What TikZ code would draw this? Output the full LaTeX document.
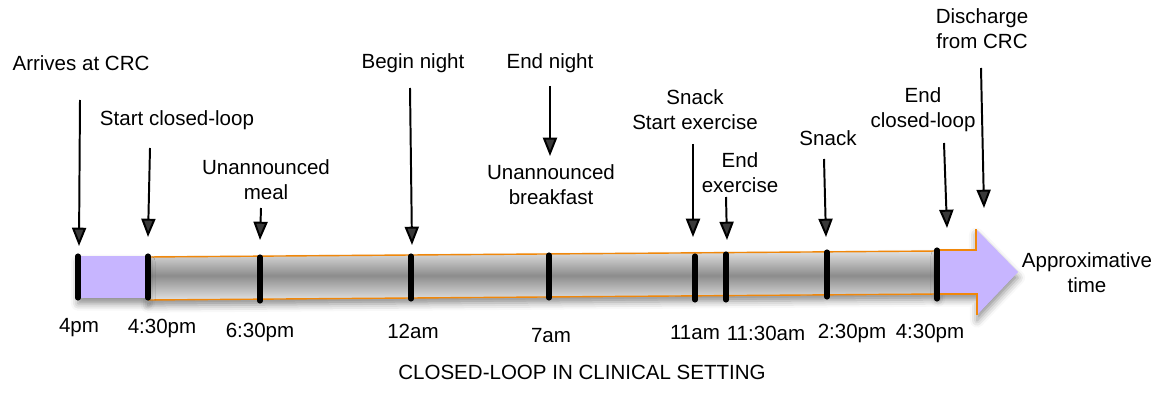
\documentclass[tikz,border=0pt]{standalone}
\usepackage{fontspec}
\setmainfont{Liberation Sans}
\usetikzlibrary{arrows.meta,shadows.blur}
\definecolor{lilac}{RGB}{199,181,255}
\definecolor{bandorange}{RGB}{240,135,10}
\tikzset{
	lbl/.style={inner sep=0pt, align=center, font=\fontsize{14.6}{17.8}\selectfont},
	evarrow/.style={-{Triangle[width=10pt,length=13pt]}, line width=1.4pt},
	timetick/.style={line width=3.6pt, line cap=round},
	softshadow/.style={blur shadow={shadow xshift=0pt, shadow yshift=-4pt, shadow blur radius=5pt, shadow opacity=45}},
}
\begin{document}
\begin{tikzpicture}[x=0.025cm, y=-0.025cm]
	\useasboundingbox (0,0) rectangle (1163,413);
	
	% the bar
	\fill[white, softshadow] (148,257) -- (938,251) -- (938,294) -- (148,300) -- cycle;
	\shade[top color=black!12, bottom color=black!12, middle color=black!45]
		(148,257) -- (938,251) -- (938,294) -- (148,300) -- cycle;
	\draw[bandorange, line width=1pt] (148,257) -- (938,251);
	\draw[bandorange, line width=1pt] (148,300) -- (938,294);
	\fill[lilac, softshadow] (78,256) rectangle (148,298);
	\fill[lilac, softshadow] (938,250) -- (976,250) -- (976,229) -- (1018,272)
		-- (977,315) -- (977,294) -- (938,294) -- cycle;
	\draw[bandorange, line width=0.8pt] (938,250) -- (976,250) -- (976,229);
	\draw[bandorange, line width=0.8pt] (938,294) -- (977,294) -- (977,315);
	\foreach \x/\t/\b in {78/256/298, 148/256/298, 260/257/301, 411/256/299,
		549/255/298, 695/256/300, 726/254/300, 827/252/297, 937/250/299}
		\draw[timetick] (\x,\t) -- (\x,\b);
	
	% events
	\node[lbl] (arrive) at (81,63) {Arrives at CRC};
	\node[lbl] (startcl) at (177,120) {Start closed-loop};
	\node[lbl] (meal) at (266,180) {Unannounced\\meal};
	\node[lbl] (beginnight) at (413,63) {Begin night};
	\node[lbl] (endnight) at (550,63) {End night};
	\node[lbl] (breakfast) at (551,185) {Unannounced\\breakfast};
	\node[lbl] (snackex) at (695,110) {Snack\\Start exercise};
	\node[lbl] (endex) at (740,173) {End\\exercise};
	\node[lbl] (snack) at (828,138) {Snack};
	\node[lbl] (endcl) at (923,110) {End\\closed-loop};
	\node[lbl] (discharge) at (982,29) {Discharge\\from CRC};
	\node[lbl] (approx) at (1087,273) {Approximative\\time};
	
	\coordinate (arriveS) at (80,100);     \coordinate (arriveE) at (79,246);
	\coordinate (startclS) at (150,148);   \coordinate (startclE) at (148,237);
	\coordinate (mealS) at (261,208);      \coordinate (mealE) at (260,240);
	\coordinate (beginS) at (410,88);      \coordinate (beginE) at (412,245);
	\coordinate (endnightS) at (550,86);   \coordinate (endnightE) at (550,156);
	\coordinate (snackexS) at (693,144);   \coordinate (snackexE) at (693,237);
	\coordinate (endexS) at (726,197);     \coordinate (endexE) at (727,240);
	\coordinate (snackS) at (824,159);     \coordinate (snackE) at (826,237);
	\coordinate (endclS) at (944,143);     \coordinate (endclE) at (947,228);
	\coordinate (dischargeS) at (981,68);  \coordinate (dischargeE) at (984,208);
	
	\draw[evarrow] (arriveS) -- (arriveE);
	\draw[evarrow] (startclS) -- (startclE);
	\draw[evarrow] (mealS) -- (mealE);
	\draw[evarrow] (beginS) -- (beginE);
	\draw[evarrow] (endnightS) -- (endnightE);
	\draw[evarrow] (snackexS) -- (snackexE);
	\draw[evarrow] (endexS) -- (endexE);
	\draw[evarrow] (snackS) -- (snackE);
	\draw[evarrow] (endclS) -- (endclE);
	\draw[evarrow] (dischargeS) -- (dischargeE);
	
	% times
	\node[lbl] (t4pm) at (79,328) {4pm};
	\node[lbl] (t430pm) at (162,328) {4:30pm};
	\node[lbl] (t630pm) at (260,332) {6:30pm};
	\node[lbl] (t12am) at (413,331) {12am};
	\node[lbl] (t7am) at (551,336) {7am};
	\node[lbl] (t11am) at (695,333) {11am};
	\node[lbl] (t1130am) at (766,333) {11:30am};
	\node[lbl] (t230pm) at (852,333) {2:30pm};
	\node[lbl] (t430pmb) at (930,333) {4:30pm};
	
	\node[lbl] (caption) at (582,372) {CLOSED-LOOP IN CLINICAL SETTING};
\end{tikzpicture}
\end{document}
